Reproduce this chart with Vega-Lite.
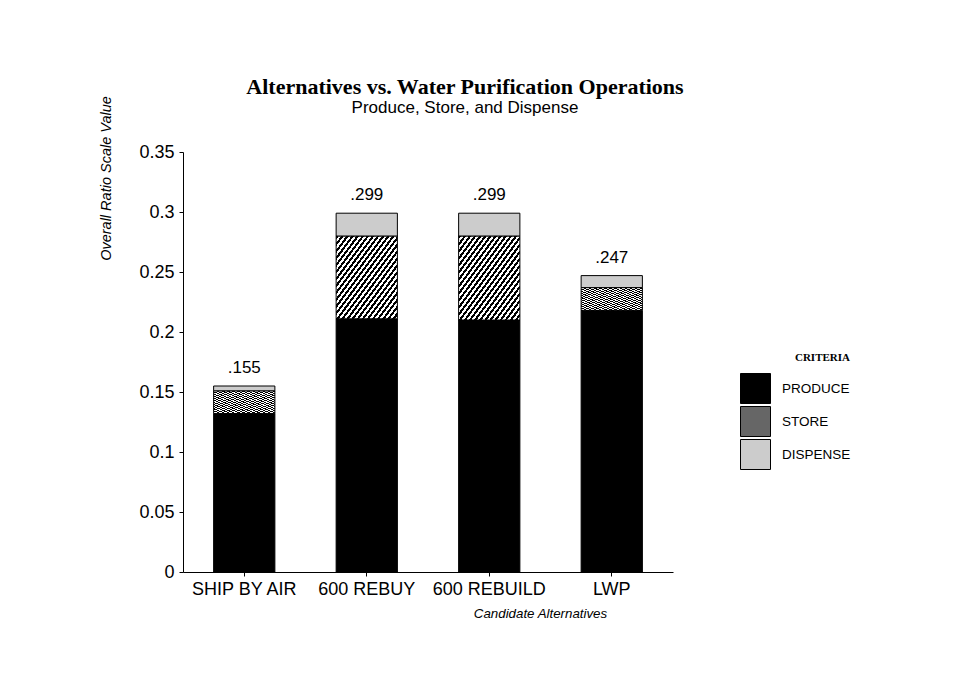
{
  "$schema": "https://vega.github.io/schema/vega-lite/v6.json",
  "width": 490,
  "height": 420,
  "autosize": {"type": "none"},
  "padding": {"left": 183, "top": 152, "right": 287, "bottom": 124},
  "background": "white",
  "config": {"view": {"stroke": null}, "axis": {"domainWidth": 1, "tickWidth": 1}},
  "title": {
    "text": "Alternatives vs. Water Purification Operations",
    "subtitle": "Produce, Store, and Dispense",
    "font": "Liberation Serif",
    "fontSize": 22,
    "fontWeight": "bold",
    "color": "black",
    "subtitleFont": "Liberation Sans",
    "subtitleFontSize": 17,
    "subtitleColor": "black",
    "subtitlePadding": 1,
    "anchor": "middle",
    "frame": "group",
    "dx": 37,
    "offset": -21
  },
  "data": {
    "values": [
      {"alt": "SHIP BY AIR", "criteria": "PRODUCE", "rank": 1, "value": 0.132},
      {"alt": "SHIP BY AIR", "criteria": "STORE", "rank": 2, "value": 0.019},
      {"alt": "SHIP BY AIR", "criteria": "DISPENSE", "rank": 3, "value": 0.004},
      {"alt": "600 REBUY", "criteria": "PRODUCE", "rank": 1, "value": 0.211},
      {"alt": "600 REBUY", "criteria": "STORE", "rank": 2, "value": 0.069},
      {"alt": "600 REBUY", "criteria": "DISPENSE", "rank": 3, "value": 0.019},
      {"alt": "600 REBUILD", "criteria": "PRODUCE", "rank": 1, "value": 0.210},
      {"alt": "600 REBUILD", "criteria": "STORE", "rank": 2, "value": 0.070},
      {"alt": "600 REBUILD", "criteria": "DISPENSE", "rank": 3, "value": 0.019},
      {"alt": "LWP", "criteria": "PRODUCE", "rank": 1, "value": 0.218},
      {"alt": "LWP", "criteria": "STORE", "rank": 2, "value": 0.019},
      {"alt": "LWP", "criteria": "DISPENSE", "rank": 3, "value": 0.010}
    ]
  },
  "layer": [
    {
      "mark": {"type": "bar", "stroke": "black", "strokeWidth": 1},
      "encoding": {
        "x": {
          "field": "alt",
          "type": "nominal",
          "sort": ["SHIP BY AIR", "600 REBUY", "600 REBUILD", "LWP"],
          "scale": {"paddingInner": 0.5, "paddingOuter": 0.25},
          "axis": {
            "title": "Candidate Alternatives",
            "labelAngle": 0,
            "domainColor": "black",
            "tickColor": "black",
            "tickSize": 4,
            "labelFont": "Liberation Sans",
            "labelFontSize": 18,
            "labelColor": "black",
            "labelPadding": 4,
            "titleFont": "Liberation Sans",
            "titleFontStyle": "italic",
            "titleFontSize": 13.3,
            "titleFontWeight": "normal",
            "titleColor": "black",
            "titleX": 357,
            "titleY": 41,
            "titleAlign": "center",
            "titleBaseline": "middle"
          }
        },
        "y": {
          "field": "value",
          "type": "quantitative",
          "stack": "zero",
          "scale": {"domain": [0, 0.35], "nice": false},
          "axis": {
            "title": "Overall Ratio Scale Value",
            "values": [0, 0.05, 0.1, 0.15, 0.2, 0.25, 0.3, 0.35],
            "format": ".2~f",
            "grid": false,
            "domainColor": "black",
            "tickColor": "black",
            "tickSize": 4,
            "labelFont": "Liberation Sans",
            "labelFontSize": 18,
            "labelColor": "black",
            "labelPadding": 5,
            "titleFont": "Liberation Sans",
            "titleFontStyle": "italic",
            "titleFontSize": 14.5,
            "titleFontWeight": "normal",
            "titleColor": "black",
            "titleAngle": -90,
            "titleX": -77,
            "titleY": 26,
            "titleAlign": "center",
            "titleBaseline": "middle"
          }
        },
        "color": {
          "condition": {
            "test": "datum.criteria === 'STORE'",
            "value": {
              "gradient": "linear", "x1": 0, "y1": 0, "x2": 1, "y2": 1,
              "stops": [
                {"offset": 0, "color": "black"}, {"offset": 0.02083, "color": "black"}, {"offset": 0.02083, "color": "white"}, {"offset": 0.04167, "color": "white"},
                {"offset": 0.04167, "color": "black"}, {"offset": 0.0625, "color": "black"}, {"offset": 0.0625, "color": "white"}, {"offset": 0.08333, "color": "white"},
                {"offset": 0.08333, "color": "black"}, {"offset": 0.10417, "color": "black"}, {"offset": 0.10417, "color": "white"}, {"offset": 0.125, "color": "white"},
                {"offset": 0.125, "color": "black"}, {"offset": 0.14583, "color": "black"}, {"offset": 0.14583, "color": "white"}, {"offset": 0.16667, "color": "white"},
                {"offset": 0.16667, "color": "black"}, {"offset": 0.1875, "color": "black"}, {"offset": 0.1875, "color": "white"}, {"offset": 0.20833, "color": "white"},
                {"offset": 0.20833, "color": "black"}, {"offset": 0.22917, "color": "black"}, {"offset": 0.22917, "color": "white"}, {"offset": 0.25, "color": "white"},
                {"offset": 0.25, "color": "black"}, {"offset": 0.27083, "color": "black"}, {"offset": 0.27083, "color": "white"}, {"offset": 0.29167, "color": "white"},
                {"offset": 0.29167, "color": "black"}, {"offset": 0.3125, "color": "black"}, {"offset": 0.3125, "color": "white"}, {"offset": 0.33333, "color": "white"},
                {"offset": 0.33333, "color": "black"}, {"offset": 0.35417, "color": "black"}, {"offset": 0.35417, "color": "white"}, {"offset": 0.375, "color": "white"},
                {"offset": 0.375, "color": "black"}, {"offset": 0.39583, "color": "black"}, {"offset": 0.39583, "color": "white"}, {"offset": 0.41667, "color": "white"},
                {"offset": 0.41667, "color": "black"}, {"offset": 0.4375, "color": "black"}, {"offset": 0.4375, "color": "white"}, {"offset": 0.45833, "color": "white"},
                {"offset": 0.45833, "color": "black"}, {"offset": 0.47917, "color": "black"}, {"offset": 0.47917, "color": "white"}, {"offset": 0.5, "color": "white"},
                {"offset": 0.5, "color": "black"}, {"offset": 0.52083, "color": "black"}, {"offset": 0.52083, "color": "white"}, {"offset": 0.54167, "color": "white"},
                {"offset": 0.54167, "color": "black"}, {"offset": 0.5625, "color": "black"}, {"offset": 0.5625, "color": "white"}, {"offset": 0.58333, "color": "white"},
                {"offset": 0.58333, "color": "black"}, {"offset": 0.60417, "color": "black"}, {"offset": 0.60417, "color": "white"}, {"offset": 0.625, "color": "white"},
                {"offset": 0.625, "color": "black"}, {"offset": 0.64583, "color": "black"}, {"offset": 0.64583, "color": "white"}, {"offset": 0.66667, "color": "white"},
                {"offset": 0.66667, "color": "black"}, {"offset": 0.6875, "color": "black"}, {"offset": 0.6875, "color": "white"}, {"offset": 0.70833, "color": "white"},
                {"offset": 0.70833, "color": "black"}, {"offset": 0.72917, "color": "black"}, {"offset": 0.72917, "color": "white"}, {"offset": 0.75, "color": "white"},
                {"offset": 0.75, "color": "black"}, {"offset": 0.77083, "color": "black"}, {"offset": 0.77083, "color": "white"}, {"offset": 0.79167, "color": "white"},
                {"offset": 0.79167, "color": "black"}, {"offset": 0.8125, "color": "black"}, {"offset": 0.8125, "color": "white"}, {"offset": 0.83333, "color": "white"},
                {"offset": 0.83333, "color": "black"}, {"offset": 0.85417, "color": "black"}, {"offset": 0.85417, "color": "white"}, {"offset": 0.875, "color": "white"},
                {"offset": 0.875, "color": "black"}, {"offset": 0.89583, "color": "black"}, {"offset": 0.89583, "color": "white"}, {"offset": 0.91667, "color": "white"},
                {"offset": 0.91667, "color": "black"}, {"offset": 0.9375, "color": "black"}, {"offset": 0.9375, "color": "white"}, {"offset": 0.95833, "color": "white"},
                {"offset": 0.95833, "color": "black"}, {"offset": 0.97917, "color": "black"}, {"offset": 0.97917, "color": "white"}, {"offset": 1, "color": "white"}
              ]
            }
          },
          "field": "criteria",
          "type": "nominal",
          "scale": {
            "domain": ["PRODUCE", "STORE", "DISPENSE"],
            "range": ["black", "#666666", "#cccccc"]
          },
          "legend": {
            "title": "CRITERIA",
            "orient": "none",
            "legendX": 557,
            "legendY": 200,
            "padding": 0,
            "titleFont": "Liberation Serif",
            "titleFontSize": 11,
            "titleFontWeight": "bold",
            "titleColor": "black",
            "titleAnchor": "end",
            "titlePadding": 10,
            "symbolType": "square",
            "symbolSize": 900,
            "symbolStrokeColor": "black",
            "symbolStrokeWidth": 1,
            "labelFont": "Liberation Sans",
            "labelFontSize": 13.5,
            "labelColor": "black",
            "labelOffset": 11,
            "rowPadding": -3
          }
        },
        "order": {"field": "rank", "type": "quantitative"}
      }
    },
    {
      "transform": [
        {"aggregate": [{"op": "sum", "field": "value", "as": "total"}], "groupby": ["alt"]},
        {"calculate": "replace(format(datum.total, '.3f'), '0.', '.')", "as": "label"}
      ],
      "mark": {"type": "text", "dy": -18, "fontSize": 17, "font": "Liberation Sans", "color": "black"},
      "encoding": {
        "x": {"field": "alt", "type": "nominal", "sort": ["SHIP BY AIR", "600 REBUY", "600 REBUILD", "LWP"]},
        "y": {"field": "total", "type": "quantitative"},
        "text": {"field": "label", "type": "nominal"}
      }
    }
  ]
}
